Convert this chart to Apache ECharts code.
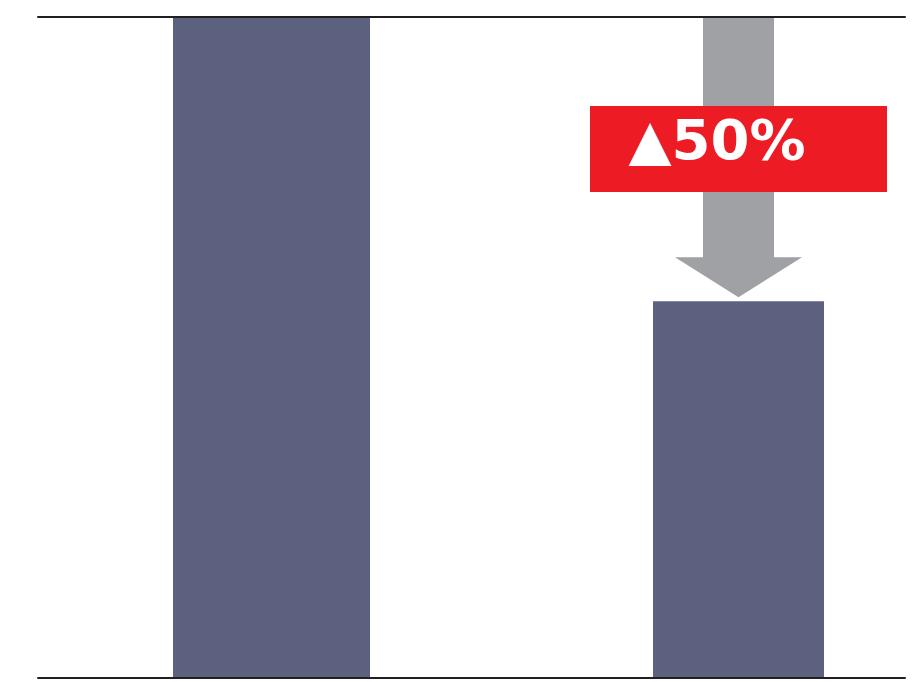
<!DOCTYPE html>
<html><head><meta charset="utf-8">
<script src="https://cdn.jsdelivr.net/npm/echarts@6/dist/echarts.min.js"></script>
<style>html,body{margin:0;padding:0;background:#fff}#c{width:918px;height:682px}</style>
</head><body><div id="c"></div>
<script>
const categories = ['Before', 'After'];
const valuesBefore = [100, '-'];
const valuesAfter = ['-', 57];
const annotationText = '▲50%';

const BAR = '#5D6180', GRAY = '#A0A1A5', RED = '#ED1C24', LINE = '#231F20';
const chart = echarts.init(document.getElementById('c'), null, {renderer: 'canvas'});
chart.setOption({
  animation: false,
  backgroundColor: '#fff',
  grid: [
    {left: 117, width: 763, top: 17, bottom: 4},
    {left: 38, right: 13, top: 17, bottom: 4}
  ],
  xAxis: [
    {type: 'category', data: categories, gridIndex: 0, show: false},
    {type: 'category', data: categories, gridIndex: 1, position: 'bottom', z: 10,
      axisLine: {lineStyle: {color: LINE, width: 2}}, axisTick: {show: false}, axisLabel: {show: false}},
    {type: 'category', data: categories, gridIndex: 1, position: 'top', z: 10,
      axisLine: {lineStyle: {color: LINE, width: 2}}, axisTick: {show: false}, axisLabel: {show: false}}
  ],
  yAxis: [
    {type: 'value', min: 0, max: 100, gridIndex: 0, show: false},
    {type: 'value', min: 0, max: 100, gridIndex: 1, show: false}
  ],
  series: [
    {type: 'bar', name: 'Before', data: valuesBefore, barWidth: 197, barGap: '-50%', itemStyle: {color: BAR}},
    {type: 'bar', name: 'After', data: valuesAfter, barWidth: 171, barGap: '-50%', itemStyle: {color: BAR}}
  ]
});

const lay = chart.getModel().getSeriesByIndex(1).getData().getItemLayout(1);
const cx = lay.x + lay.width / 2;
const barTop = Math.min(lay.y, lay.y + lay.height);
const topY = chart.convertToPixel({yAxisIndex: 0}, 100);
const tipY = barTop - 4, headY = tipY - 40;
chart.setOption({
  graphic: [
    {type: 'polygon', z: 5, shape: {points: [
      [cx - 35.5, topY], [cx + 35.5, topY], [cx + 35.5, headY], [cx + 63.5, headY],
      [cx, tipY], [cx - 63.5, headY], [cx - 35.5, headY]]}, style: {fill: GRAY}},
    {type: 'rect', z: 6, shape: {x: cx - 148.5, y: 106, width: 297, height: 86}, style: {fill: RED}},
    {type: 'text', z: 7, x: cx - 110, y: 144, style: {text: annotationText, fill: '#fff',
      font: 'bold 56px "DejaVu Sans"', textAlign: 'left', textVerticalAlign: 'middle'}}
  ]
});
</script></body></html>
